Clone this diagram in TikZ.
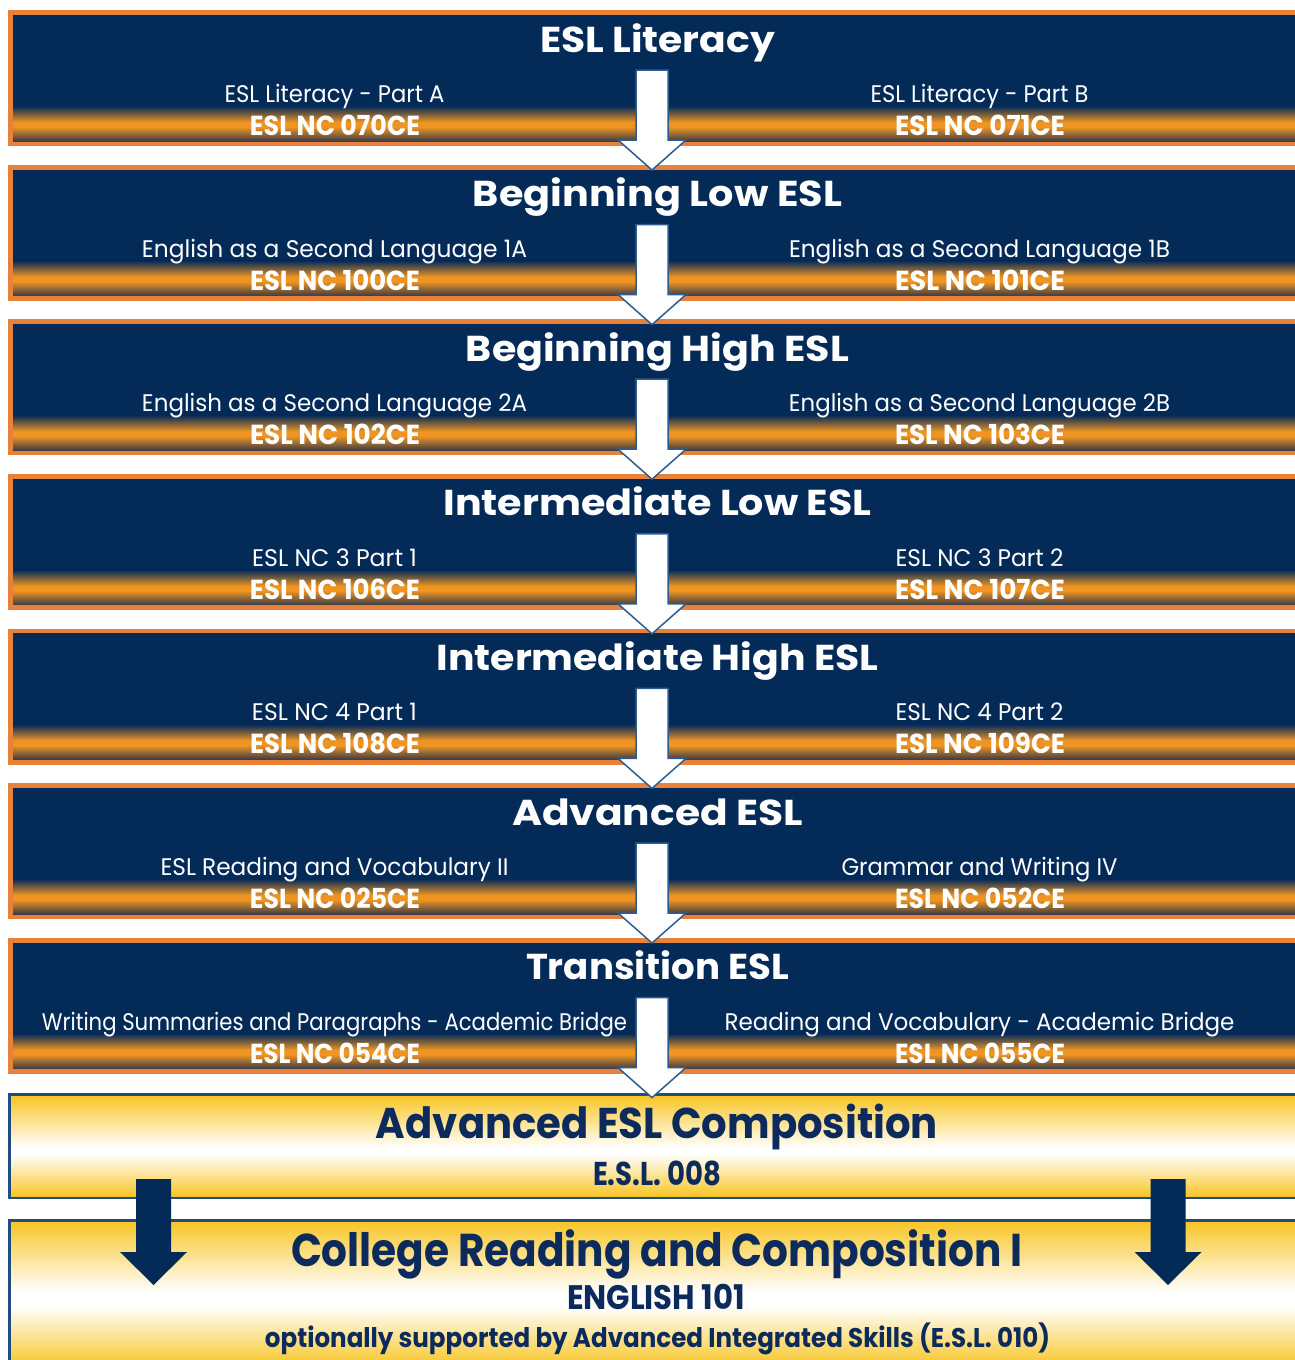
\documentclass[tikz,border=0pt]{standalone}
\usepackage{fontspec}
\setmainfont{Poppins}
\usepackage{graphicx}
\definecolor{navy}{HTML}{042A58}
\definecolor{orangeb}{HTML}{E8823A}
\definecolor{stripeor}{HTML}{EE9422}
\definecolor{stripedk}{HTML}{3C3C46}
\definecolor{arrowedge}{HTML}{2E5C8E}
\definecolor{yell}{HTML}{F8C628}
\definecolor{yborder}{HTML}{1F4D80}
\definecolor{ytext}{HTML}{0C2B5C}
\newcommand\fw[2]{\resizebox{#1pt}{\height}{#2}}
\tikzset{
  bandbox/.style={fill=orangeb, draw=none, inner sep=0, minimum width=1300pt, minimum height=136pt, anchor=north west},
  ybox/.style={fill=yborder, draw=none, inner sep=0, minimum width=1300pt, anchor=north west},
  ttl/.style={anchor=base, inner sep=0, text=white, font=\fontsize{36}{40}\selectfont\bfseries},
  sub/.style={anchor=base, inner sep=0, text=white, font=\fontsize{24}{28}\selectfont},
  code/.style={anchor=base, inner sep=0, text=white, font=\fontsize{27.5}{30}\selectfont\bfseries},
  ytitle/.style={anchor=base, inner sep=0, text=ytext, font=\bfseries},
  whitearrow/.pic={\draw[fill=white, draw=arrowedge, line width=1.5pt, line join=miter]
     (-16,60) -- (16,60) -- (16,130) -- (34,130) -- (0,160) -- (-34,130) -- (-16,130) -- cycle;},
  navyarrow/.pic={\fill[navy]
     (-17.5,0) -- (17.5,0) -- (17.5,73) -- (33.5,73) -- (0,106) -- (-33.5,73) -- (-17.5,73) -- cycle;}
}
\begin{document}
\begin{tikzpicture}[x=1pt,y=-1pt]
\useasboundingbox (0,0) rectangle (1294,1360);
\fill[white] (0,0) rectangle (1294,1360);
% ---------- navy bands ----------
\foreach \i/\ttltext/\tw/\sl/\slw/\sr/\srw/\cl/\cr in {
  1/ESL Literacy/235/ESL Literacy - Part A/220/ESL Literacy - Part B/218/ESL NC 070CE/ESL NC 071CE,
  2/Beginning Low ESL/369/English as a Second Language 1A/385/English as a Second Language 1B/381/ESL NC 100CE/ESL NC 101CE,
  3/Beginning High ESL/383/English as a Second Language 2A/385/English as a Second Language 2B/381/ESL NC 102CE/ESL NC 103CE,
  4/Intermediate Low ESL/428/ESL NC 3 Part 1/165/ESL NC 3 Part 2/168/ESL NC 106CE/ESL NC 107CE,
  5/Intermediate High ESL/442/ESL NC 4 Part 1/165/ESL NC 4 Part 2/168/ESL NC 108CE/ESL NC 109CE,
  6/Advanced ESL/291/ESL Reading and Vocabulary II/348/Grammar and Writing IV/276/ESL NC 025CE/ESL NC 052CE,
  7/Transition ESL/263/Writing Summaries and Paragraphs - Academic Bridge/585/Reading and Vocabulary - Academic Bridge/510/ESL NC 054CE/ESL NC 055CE}{
  \pgfmathsetmacro\T{10+154.6*(\i-1)}
  \node[bandbox] (b\i) at (8,\T) {};
  \fill[navy] (13,\T+5) rectangle (1300,\T+131);
  \shade[top color=navy, bottom color=stripeor] (13,\T+96) rectangle (1300,\T+112.2);
  \fill[stripeor] (13,\T+112) rectangle (1300,\T+117.2);
  \shade[top color=stripeor, bottom color=stripedk] (13,\T+117) rectangle (1300,\T+131);
  \node[ttl] (t\i) at (657.5,\T+42) {\fw{\tw}{\ttltext}};
  \node[sub] (l\i) at (334.5,\T+92.5) {\fw{\slw}{\sl}};
  \node[sub] (r\i) at (979.5,\T+92.5) {\fw{\srw}{\sr}};
  \node[code] (lc\i) at (335,\T+125.5) {\fw{170}{\cl}};
  \node[code] (rc\i) at (980,\T+125.5) {\fw{170}{\cr}};
}
% ---------- yellow bands ----------
\node[ybox, minimum height=106pt] (y1) at (8,1093) {};
\shade[top color=yell, bottom color=white] (11,1096) rectangle (1300,1148);
\fill[white] (11,1147.5) rectangle (1300,1154.5);
\shade[top color=white, bottom color=yell] (11,1154) rectangle (1300,1196);
\node[ybox, minimum height=150pt] (y2) at (8,1219) {};
\shade[top color=yell, bottom color=white] (11,1222) rectangle (1300,1292);
\fill[white] (11,1291.5) rectangle (1300,1306.5);
\shade[top color=white, bottom color=yell] (11,1306) rectangle (1300,1366);
\node[ytitle, font=\fontsize{43}{46}\selectfont\bfseries] (y1t) at (657,1138) {\fw{562}{Advanced ESL Composition}};
\node[ytitle, font=\fontsize{33}{36}\selectfont\bfseries] (y1c) at (657,1185) {\fw{128}{E.S.L. 008}};
\node[ytitle, font=\fontsize{46}{50}\selectfont\bfseries] (y2t) at (656.5,1266) {\fw{731}{College Reading and Composition I}};
\node[ytitle, font=\fontsize{34}{38}\selectfont\bfseries] (y2c) at (656,1309) {\fw{178}{ENGLISH 101}};
\node[ytitle, font=\fontsize{27}{30}\selectfont\bfseries] (y2n) at (657.5,1347) {\fw{785}{optionally supported by Advanced Integrated Skills (E.S.L. 010)}};
% ---------- arrows ----------
\foreach \i in {1,...,7}{
  \pgfmathsetmacro\T{10+154.6*(\i-1)}
  \pic (a\i) at (652,\T) {whitearrow};
}
\pic (nl) at (153.5,1179) {navyarrow};
\pic (nr) at (1168,1179) {navyarrow};
\end{tikzpicture}
\end{document}
